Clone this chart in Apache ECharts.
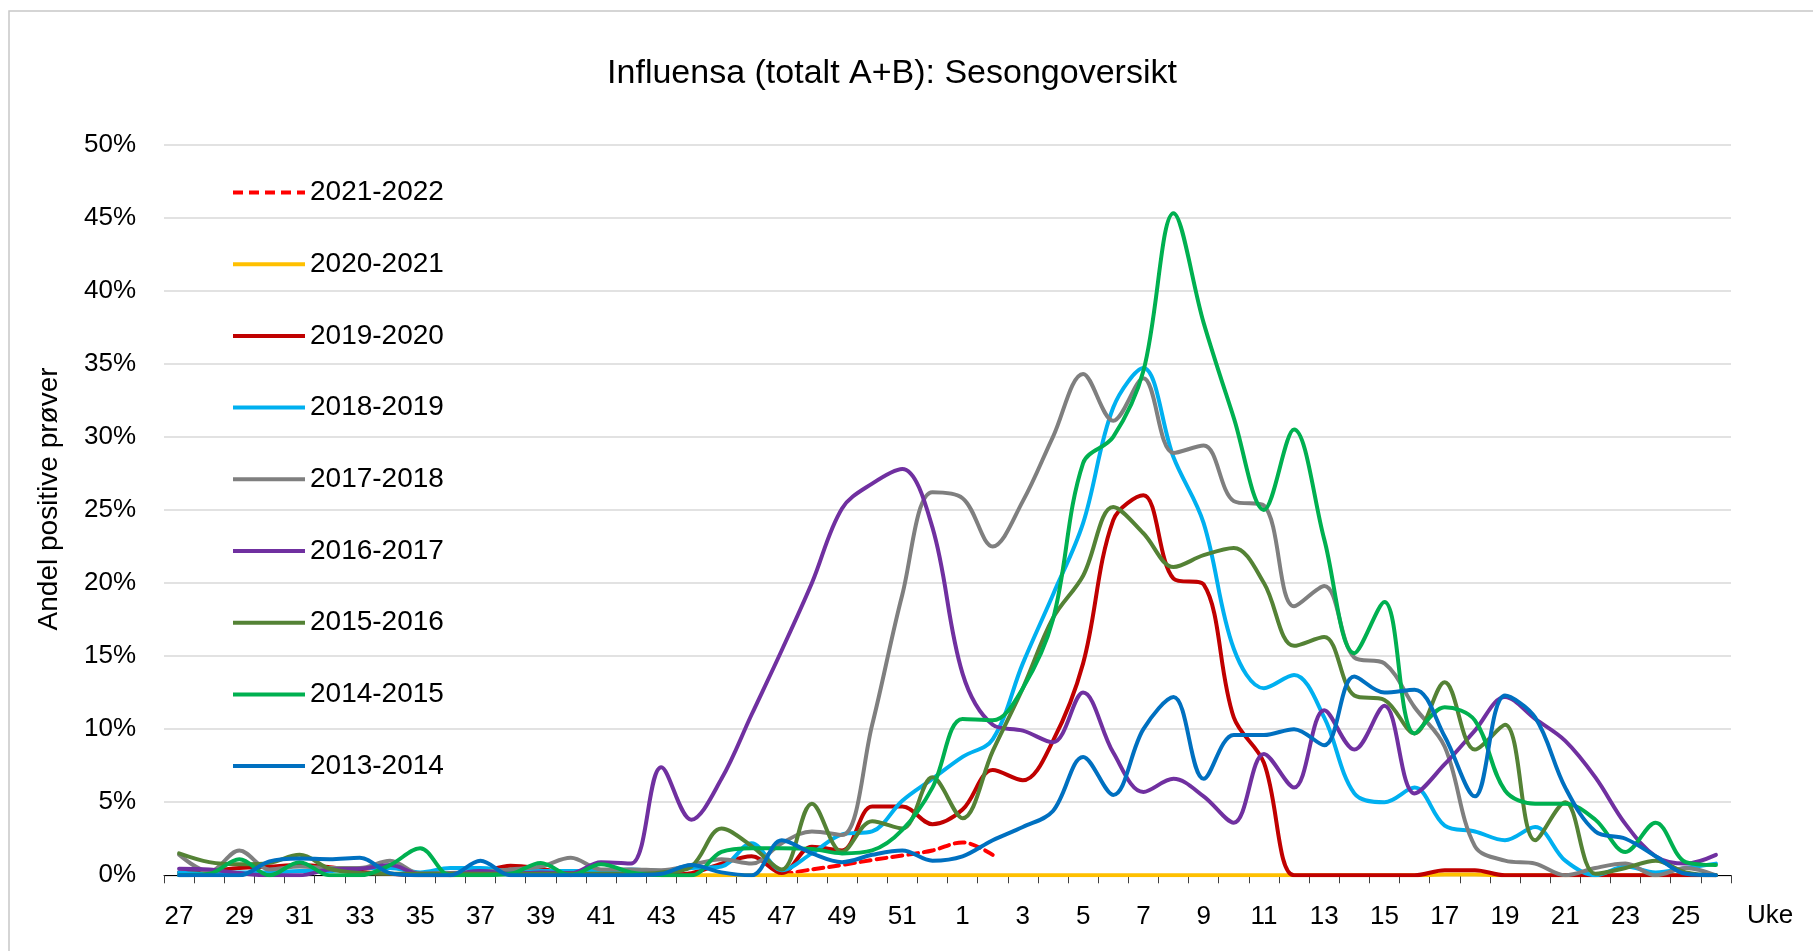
<!DOCTYPE html>
<html>
<head>
    <meta charset="utf-8">
    <title>Influensa sesongoversikt</title>
    <style type="text/css">
        * {
            margin: 0;
            padding: 0;
        }
        body {
            background: #fff;
        }
    </style>
</head>
<body>
    <div id="main" style="width: 1813px; height: 951px;"></div>

    <script src="https://cdn.jsdelivr.net/npm/echarts/dist/echarts.min.js"></script>
    <script type="text/javascript">
        // uker: 27-52, 1-26
        var weeks = ['27', '28', '29', '30', '31', '32', '33', '34', '35', '36', '37', '38', '39', '40', '41', '42',
            '43', '44', '45', '46', '47', '48', '49', '50', '51', '52',
            '1', '2', '3', '4', '5', '6', '7', '8', '9', '10', '11', '12', '13', '14', '15', '16', '17',
            '18', '19', '20', '21', '22', '23', '24', '25', '26'];

        var seasons = ['2021-2022', '2020-2021', '2019-2020', '2018-2019', '2017-2018',
            '2016-2017', '2015-2016', '2014-2015', '2013-2014'];

        var s2122 = [null, null, null, null, null, null, null, null, null, null, null, null, null, null, null, null,
            null, null, null, null, 0.05, 0.4, 0.7, 1.05, 1.35, 1.7,
            2.25, 1.4, null, null, null, null, null, null, null, null, null, null, null, null, null, null, null,
            null, null, null, null, null, null, null, null, null];

        var s2021 = [null, null, null, null, null, null, null, null, null, null, null, null, null, null, null, null,
            0, 0, 0, 0, 0, 0, 0, 0, 0, 0,
            0, 0, 0, 0, 0, 0, 0, 0, 0, 0, 0, 0, 0, 0, 0, 0, 0.05,
            0.05, 0, 0, 0, 0, 0, 0, 0, 0];

        var s1920 = [0.2, 0.3, 0.5, 0.6, 0.7, 0.55, 0.25, 0.1, 0, 0, 0.2, 0.65, 0.45, 0.1, 0.35, 0.05,
            0.05, 0.15, 0.8, 1.3, 0.15, 1.95, 1.7, 4.7, 4.7, 3.5,
            4.5, 7.2, 6.5, 9.2, 14.5, 24.3, 26.0, 20.3, 19.9, 10.8, 7.7, 0, 0, 0, 0, 0, 0.35,
            0.35, 0, 0, 0, 0, 0, 0, 0, 0];

        var s1819 = [0.2, 0.1, 0.2, 0.2, 0.3, 0.3, 0.5, 0.5, 0.2, 0.5, 0.5, 0.3, 0.3, 0.3, 0.3, 0.4,
            0.3, 0.5, 0.6, 2.2, 0.35, 1.5, 2.8, 3.0, 5.1, 6.6,
            8.1, 9.3, 14.5, 19.2, 24.1, 32.0, 34.7, 28.6, 24.1, 15.5, 12.8, 13.7, 10.8, 5.6, 5.0, 6.0, 3.4,
            3.0, 2.4, 3.3, 1.0, 0, 0.6, 0.2, 0.5, 0.8];

        var s1718 = [1.4, 0.25, 1.7, 0.4, 0.6, 0.5, 0.5, 1.0, 0.1, 0.15, 0.25, 0.4, 0.6, 1.2, 0.4, 0.4,
            0.35, 0.7, 1.1, 0.8, 2.2, 3.0, 2.75, 10.3, 19.2, 26.2,
            25.8, 22.5, 25.6, 30.0, 34.3, 31.1, 34.0, 28.9, 29.4, 25.6, 25.3, 18.4, 19.8, 14.9, 14.5, 11.5, 8.8,
            2.0, 1.0, 0.8, 0, 0.5, 0.8, 0, 0.5, 0];

        var s1617 = [0.45, 0.4, 0.15, 0, 0, 0.4, 0.45, 0.7, 0.1, 0.1, 0.3, 0.1, 0.2, 0.15, 0.9, 0.8,
            7.4, 3.8, 6.6, 11.0, 15.4, 20.0, 25.1, 26.8, 27.8, 23.8,
            13.8, 10.3, 9.9, 9.1, 12.5, 8.4, 5.7, 6.6, 5.4, 3.6, 8.3, 6.0, 11.3, 8.6, 11.6, 5.6, 7.6,
            9.9, 12.2, 10.7, 9.2, 6.7, 3.5, 1.3, 0.8, 1.4];

        var s1516 = [1.5, 0.9, 0.75, 0.85, 1.4, 0.45, 0.15, 0.1, 0.1, 0.1, 0.1, 0.1, 0.1, 0.1, 0.1, 0.1,
            0.2, 0.6, 3.2, 2.0, 0.4, 4.9, 1.6, 3.7, 3.2, 6.7,
            3.9, 8.5, 12.8, 17.6, 20.5, 25.2, 23.4, 21.1, 21.9, 22.4, 20.0, 15.7, 16.3, 12.3, 12.0, 9.7, 13.2,
            8.6, 10.3, 2.4, 5.0, 0.1, 0.5, 1.0, 0.2, 0];

        var s1415 = [0, 0.1, 1.1, 0, 0.9, 0, 0, 0.7, 1.85, 0, 0, 0.1, 0.85, 0, 0.75, 0.2,
            0, 0, 1.6, 1.85, 1.85, 1.8, 1.5, 1.7, 3.1, 6.0,
            10.7, 10.6, 12.8, 17.5, 28.2, 30.0, 34.5, 45.3, 37.8, 31.3, 25.0, 30.5, 23.0, 15.2, 18.7, 9.7, 11.5,
            10.6, 5.8, 4.9, 4.9, 3.8, 1.6, 3.6, 0.9, 0.7];

        var s1314 = [0, 0, 0, 0.95, 1.15, 1.1, 1.2, 0.15, 0, 0, 1.0, 0, 0, 0, 0, 0,
            0.1, 0.7, 0.2, 0, 2.4, 1.5, 0.9, 1.4, 1.7, 1.0,
            1.3, 2.4, 3.3, 4.4, 8.1, 5.5, 10.0, 12.2, 6.6, 9.6, 9.6, 10.0, 8.9, 13.6, 12.5, 12.7, 9.5,
            5.4, 12.3, 10.8, 6.0, 3.0, 2.5, 1.3, 0.1, 0];

        var seasonData = [s2122, s2021, s1920, s1819, s1718, s1617, s1516, s1415, s1314];
        var colors = ['#FF0000', '#FFC000', '#C00000', '#00B0F0', '#7F7F7F', '#7030A0', '#548235', '#00B050', '#0070C0'];

        var font = 'Liberation Sans, Arial, sans-serif';

        var series = [];
        for (var i = 0; i < seasons.length; i++) {
            series.push({
                name: seasons[i],
                type: 'line',
                data: seasonData[i],
                smooth: 0.35,
                symbol: 'none',
                connectNulls: false,
                lineStyle: {
                    color: colors[i],
                    width: 4,
                    type: i === 0 ? [10, 6] : 'solid',
                    cap: 'round',
                    join: 'round'
                },
                itemStyle: {
                    color: colors[i]
                }
            });
        }

        var myChart = echarts.init(document.getElementById('main'));

        var option = {
            animation: false,
            backgroundColor: '#fff',
            color: colors,
            title: {
                text: 'Influensa (totalt A+B): Sesongoversikt',
                left: 892,
                top: 57,
                padding: 0,
                textAlign: 'center',
                textStyle: {
                    fontFamily: font,
                    fontSize: 34,
                    fontWeight: 'normal',
                    color: '#000'
                }
            },
            legend: {
                orient: 'vertical',
                left: 231,
                top: 178.5,
                padding: 0,
                itemWidth: 72,
                itemHeight: 28,
                itemGap: 43.7,
                itemTextGap: 7,
                data: seasons,
                // bare linjen i forklaringen, ingen sirkel
                itemStyle: {
                    color: 'rgba(0,0,0,0)',
                    borderWidth: 0
                },
                lineStyle: {
                    width: 4,
                    cap: 'butt'
                },
                textStyle: {
                    fontFamily: font,
                    fontSize: 28,
                    color: '#000'
                }
            },
            grid: {
                left: 164,
                right: 82,
                top: 144.5,
                bottom: 75.7,
                containLabel: false,
                outerBoundsMode: 'none'
            },
            xAxis: {
                type: 'category',
                data: weeks,
                boundaryGap: true,
                name: 'Uke',
                nameLocation: 'end',
                nameGap: 16,
                nameTextStyle: {
                    fontFamily: font,
                    fontSize: 26,
                    color: '#000',
                    verticalAlign: 'top',
                    padding: [27.5, 0, 0, 0]
                },
                axisLine: {
                    lineStyle: {
                        color: '#000',
                        width: 1
                    }
                },
                axisTick: {
                    show: true,
                    interval: 0,
                    length: 8,
                    lineStyle: {
                        color: '#404040'
                    }
                },
                axisLabel: {
                    interval: 1,
                    margin: 28.5,
                    fontFamily: font,
                    fontSize: 26,
                    color: '#000'
                },
                splitLine: {
                    show: false
                }
            },
            yAxis: {
                type: 'value',
                min: 0,
                max: 50,
                interval: 5,
                name: 'Andel positive prøver',
                nameLocation: 'middle',
                nameRotate: 90,
                nameGap: 101,
                nameTextStyle: {
                    fontFamily: font,
                    fontSize: 28,
                    color: '#000',
                    padding: [0, 0, 0, 22]
                },
                axisLine: {
                    show: false
                },
                axisTick: {
                    show: false
                },
                axisLabel: {
                    formatter: '{value}%',
                    margin: 28,
                    fontFamily: font,
                    fontSize: 26,
                    color: '#000'
                },
                splitLine: {
                    lineStyle: {
                        color: '#d9d9d9',
                        width: 1.5
                    }
                }
            },
            graphic: [{
                // rammen rundt diagrammet
                type: 'rect',
                silent: true,
                shape: {
                    x: 9,
                    y: 11,
                    width: 1900,
                    height: 1000
                },
                style: {
                    fill: 'none',
                    stroke: '#c8c8c8',
                    lineWidth: 1.5
                }
            }],
            series: series
        };

        myChart.setOption(option);
    </script>
</body>
</html>
